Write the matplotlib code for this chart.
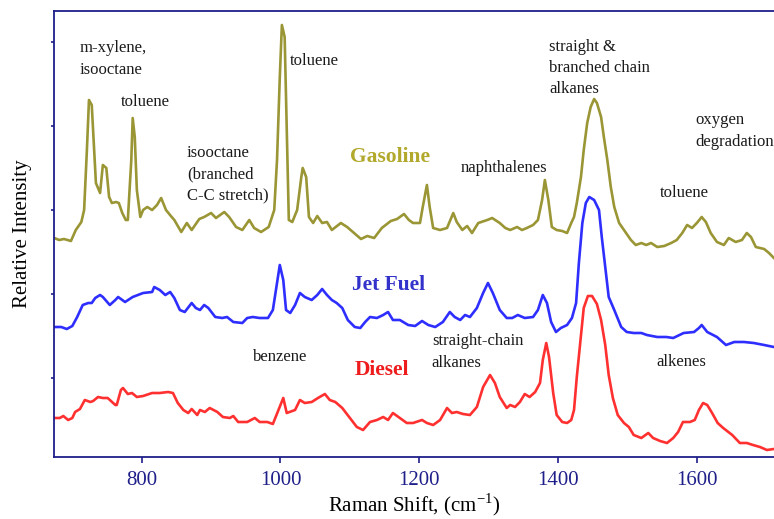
import matplotlib
matplotlib.use("Agg")
import matplotlib.pyplot as plt

# ======================================================
# Data (Raman shift in cm-1, intensity in arbitrary units)
# ======================================================
gasoline_x = [674, 681, 688, 698, 705, 713, 717, 721, 724, 728,
              731, 734, 740, 744, 749, 753, 757, 763, 767, 772,
              777, 780, 785, 787, 790, 793, 798, 802, 808, 815,
              822, 828, 835, 842, 847, 857, 865, 872, 883, 890,
              900, 907, 919, 926, 936, 945, 955, 962, 972, 983,
              991, 995, 999, 1002, 1006, 1009, 1012, 1017, 1024, 1030,
              1032, 1037, 1041, 1047, 1053, 1060, 1067, 1074, 1087, 1096,
              1106, 1116, 1125, 1135, 1146, 1159, 1168, 1178, 1185, 1191,
              1201, 1205, 1211, 1215, 1220, 1230, 1240, 1249, 1254, 1262,
              1269, 1276, 1285, 1298, 1305, 1316, 1324, 1331, 1341, 1348,
              1355, 1364, 1371, 1377, 1381, 1386, 1391, 1398, 1406, 1413,
              1419, 1423, 1427, 1433, 1437, 1442, 1447, 1452, 1456, 1462,
              1466, 1471, 1476, 1481, 1488, 1495, 1505, 1512, 1520, 1527,
              1534, 1543, 1553, 1563, 1571, 1579, 1586, 1593, 1600, 1607,
              1613, 1620, 1629, 1639, 1646, 1656, 1665, 1672, 1678, 1685,
              1697, 1704, 1711]
gasoline_y = [219, 217, 218, 216, 227, 235, 247, 307, 357, 352,
              314, 274, 264, 292, 289, 260, 254, 255, 254, 244,
              237, 237, 297, 339, 320, 267, 240, 247, 250, 247,
              252, 259, 247, 241, 237, 225, 234, 227, 238, 240,
              244, 239, 245, 240, 230, 227, 237, 229, 225, 230,
              247, 297, 380, 432, 420, 330, 237, 235, 247, 280,
              289, 280, 240, 234, 241, 234, 235, 227, 234, 230,
              224, 218, 221, 219, 229, 236, 238, 243, 237, 234,
              234, 250, 272, 250, 229, 227, 229, 244, 235, 227,
              231, 224, 234, 237, 239, 234, 229, 227, 230, 227,
              229, 232, 237, 257, 277, 257, 230, 227, 226, 224,
              234, 240, 254, 280, 307, 334, 350, 358, 354, 340,
              320, 297, 270, 250, 234, 227, 217, 212, 214, 212,
              214, 210, 211, 214, 217, 224, 232, 229, 234, 240,
              235, 224, 215, 212, 219, 215, 217, 224, 220, 210,
              208, 204, 199]

jet_x = [674, 684, 692, 700, 707, 715, 723, 728, 733, 740,
         744, 754, 762, 766, 776, 787, 802, 815, 818, 826,
         834, 841, 847, 855, 862, 872, 878, 884, 890, 896,
         906, 916, 923, 932, 945, 952, 960, 970, 982, 989,
         995, 999, 1004, 1008, 1014, 1021, 1028, 1035, 1045, 1053,
         1060, 1067, 1074, 1081, 1089, 1097, 1107, 1115, 1122, 1129,
         1139, 1148, 1155, 1162, 1172, 1184, 1194, 1204, 1213, 1223,
         1234, 1244, 1251, 1259, 1266, 1273, 1283, 1292, 1299, 1306,
         1316, 1326, 1334, 1342, 1352, 1364, 1371, 1378, 1384, 1390,
         1397, 1404, 1413, 1420, 1426, 1430, 1435, 1440, 1445, 1452,
         1459, 1463, 1469, 1473, 1481, 1491, 1499, 1509, 1520, 1528,
         1543, 1556, 1566, 1581, 1596, 1603, 1607, 1615, 1629, 1642,
         1654, 1668, 1682, 1697, 1711]
jet_y = [130, 130, 128, 131, 140, 152, 154, 154, 159, 162,
         160, 152, 157, 160, 155, 160, 164, 165, 170, 167,
         162, 165, 159, 147, 145, 154, 149, 147, 152, 149,
         140, 139, 140, 135, 134, 139, 140, 139, 139, 147,
         174, 192, 177, 147, 144, 152, 164, 160, 157, 162,
         168, 162, 157, 154, 149, 137, 130, 129, 135, 140,
         139, 142, 145, 137, 137, 132, 131, 136, 132, 130,
         135, 145, 140, 137, 142, 140, 149, 164, 174, 164,
         147, 139, 139, 142, 139, 140, 147, 162, 154, 135,
         125, 129, 132, 139, 154, 194, 234, 254, 260, 257,
         247, 220, 184, 160, 147, 130, 125, 124, 124, 122,
         120, 120, 119, 124, 125, 129, 132, 125, 120, 112,
         115, 115, 114, 112, 110]

diesel_x = [674, 682, 687, 694, 700, 704, 711, 718, 726, 730,
            737, 744, 751, 762, 764, 770, 773, 780, 786, 793,
            802, 815, 826, 838, 845, 852, 860, 867, 872, 880,
            884, 891, 898, 909, 917, 927, 932, 939, 952, 963,
            970, 981, 989, 996, 1004, 1009, 1021, 1028, 1035, 1045,
            1054, 1064, 1071, 1079, 1089, 1100, 1110, 1119, 1129, 1139,
            1148, 1155, 1162, 1172, 1182, 1191, 1204, 1211, 1220, 1230,
            1240, 1247, 1254, 1263, 1273, 1283, 1292, 1302, 1309, 1316,
            1326, 1331, 1338, 1345, 1352, 1359, 1367, 1374, 1378, 1383,
            1387, 1393, 1398, 1406, 1413, 1419, 1423, 1427, 1433, 1437,
            1443, 1449, 1456, 1462, 1468, 1473, 1479, 1486, 1495, 1502,
            1509, 1520, 1530, 1537, 1547, 1557, 1566, 1573, 1580, 1590,
            1597, 1603, 1609, 1615, 1622, 1630, 1638, 1651, 1662, 1672,
            1681, 1691, 1701, 1711]
diesel_y = [39, 39, 41, 37, 39, 45, 48, 57, 55, 56,
            60, 59, 59, 52, 52, 67, 69, 63, 64, 60,
            61, 64, 64, 65, 64, 54, 47, 44, 48, 42,
            47, 45, 49, 45, 40, 39, 41, 35, 35, 39,
            35, 35, 33, 45, 59, 44, 47, 57, 54, 55,
            59, 63, 57, 55, 49, 39, 30, 27, 35, 37,
            40, 37, 44, 39, 34, 34, 37, 34, 32, 37,
            49, 44, 45, 43, 42, 50, 70, 82, 74, 60,
            49, 52, 50, 55, 63, 60, 65, 74, 97, 114,
            100, 64, 42, 35, 34, 37, 47, 80, 122, 149,
            161, 161, 153, 137, 112, 82, 59, 42, 34, 30,
            22, 19, 24, 19, 16, 14, 19, 25, 35, 35,
            37, 47, 54, 52, 44, 34, 29, 22, 14, 14,
            12, 10, 7, 8]

x_ticks = [800, 1000, 1200, 1400, 1600]
y_ticks = [79, 163, 247, 331, 415]

# peak assignments: (text, x, y)
peak_labels = [
    ("m-xylene,\nisooctane", 711, 398),
    ("toluene", 770, 355),
    ("isooctane\n(branched\nC-C stretch)", 865, 283),
    ("toluene", 1014, 396),
    ("naphthalenes", 1260, 289),
    ("straight &\nbranched chain\nalkanes", 1387, 389),
    ("oxygen\ndegradation", 1598, 326),
    ("toluene", 1547, 264),
    ("benzene", 960, 100),
    ("straight-chain\nalkanes", 1218, 105),
    ("alkenes", 1541, 95),
]

fuel_labels = [
    ("Gasoline", 1100, 300, "#b2a92c"),
    ("Jet Fuel", 1103, 172, "#3333cc"),
    ("Diesel", 1107, 87, "#ee1c1c"),
]

# ======================================================
# Plot
# ======================================================
plt.rcParams["font.family"] = ["Liberation Serif", "DejaVu Serif"]
plt.rcParams["mathtext.fontset"] = "custom"
plt.rcParams["mathtext.rm"] = "Liberation Serif"

navy = "#1f1f8a"

fig = plt.figure(figsize=(7.74, 5.19), dpi=100)
ax = fig.add_axes([54 / 774, 62 / 519, 720 / 774, 446 / 519])

ax.plot(gasoline_x, gasoline_y, color="#9a9635", lw=1.9)
ax.plot(jet_x, jet_y, color="#2e2eff", lw=1.9)
ax.plot(diesel_x, diesel_y, color="#ff3030", lw=1.9)

for txt, x, y in peak_labels:
    ax.text(x, y, txt, fontsize=12, ha="left", va="center", linespacing=1.45,
            color="#1a1a1a")

for txt, x, y, c in fuel_labels:
    ax.text(x, y, txt, fontsize=15.5, fontweight="bold", ha="left", va="center", color=c)

ax.set_xlim(673.6, 1711.2)
ax.set_ylim(0, 446)
ax.set_xticks(x_ticks)
ax.set_yticks(y_ticks)
ax.set_yticklabels([])

for side in ["left", "top", "bottom"]:
    ax.spines[side].set_color(navy)
    ax.spines[side].set_linewidth(1.3)
ax.spines["right"].set_visible(False)

ax.tick_params(axis="x", direction="out", length=4, width=1.2, colors=navy,
               labelsize=15, pad=6)
ax.tick_params(axis="y", direction="out", length=2.5, width=1.2, colors=navy)

ax.set_xlabel("Raman Shift, (cm$^{-1}$)", fontsize=15, labelpad=1)
ax.set_ylabel("Relative Intensity", fontsize=15, labelpad=10)

fig.savefig("out.png", dpi=100)
